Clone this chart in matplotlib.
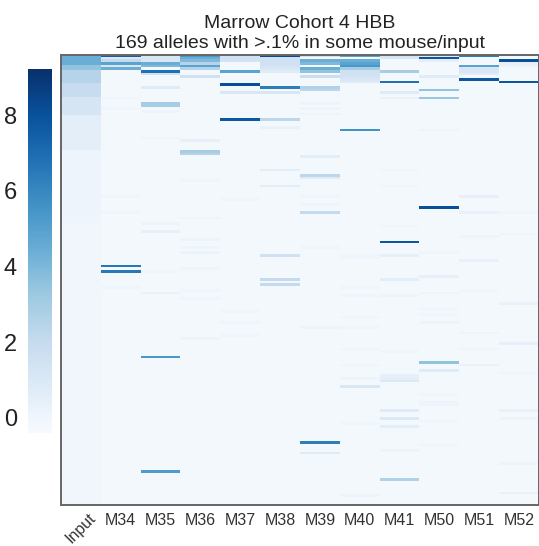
import numpy as np
import matplotlib
matplotlib.use("Agg")
import matplotlib.pyplot as plt
import matplotlib as mpl

plt.rcParams['font.family'] = ['Liberation Sans', 'DejaVu Sans']

# ---- data (intensities, 0 = background, 1 = darkest) ----
N_ALLELES = 169
columns = ['Input', 'M34', 'M35', 'M36', 'M37', 'M38', 'M39', 'M40', 'M41', 'M50', 'M51', 'M52']
background = 0.02

# Input column: (first row, last row, intensity)
input_bands = [(0, 3, 0.5), (4, 5, 0.4), (6, 10, 0.3), (11, 15, 0.24), (16, 22, 0.17),
               (23, 35, 0.1), (36, 60, 0.05), (61, 168, 0.035)]

# mouse columns: (row, intensity)
m34 = [(0, 0.82), (1, 0.15), (2, 0.25), (3, 0.55), (4, 0.15), (5, 0.5), (16, 0.045), (20, 0.04),
       (53, 0.04), (59, 0.04), (79, 0.72), (81, 0.72), (87, 0.04)]
m35 = [(0, 0.15), (1, 0.15), (2, 0.15), (3, 0.5), (4, 0.45), (6, 0.75), (7, 0.2), (12, 0.12),
       (18, 0.35), (19, 0.35), (21, 0.05), (31, 0.05), (63, 0.05), (66, 0.08), (81, 0.045),
       (89, 0.07), (113, 0.6), (156, 0.58)]
m36 = [(0, 0.6), (1, 0.5), (2, 0.45), (3, 0.3), (4, 0.55), (5, 0.3), (8, 0.2), (32, 0.08),
       (36, 0.35), (37, 0.3), (47, 0.045), (61, 0.05), (69, 0.05), (72, 0.05), (74, 0.06),
       (80, 0.05), (88, 0.045), (91, 0.045), (106, 0.05)]
m37 = [(0, 0.2), (1, 0.2), (2, 0.18), (6, 0.55), (11, 0.88), (14, 0.15), (24, 0.85),
       (54, 0.045), (96, 0.045), (100, 0.045), (105, 0.045)]
m38 = [(0, 0.9), (1, 0.2), (2, 0.2), (3, 0.2), (4, 0.18), (5, 0.15), (6, 0.12), (12, 0.7),
       (14, 0.15), (24, 0.28), (27, 0.07), (43, 0.1), (49, 0.1), (75, 0.2), (84, 0.25), (86, 0.25)]
m39 = [(0, 0.2), (2, 0.5), (3, 0.45), (5, 0.5), (6, 0.4), (8, 0.22), (12, 0.32), (13, 0.28),
       (18, 0.05), (20, 0.05), (22, 0.05), (38, 0.1), (45, 0.28), (46, 0.12), (53, 0.045),
       (56, 0.05), (59, 0.25), (72, 0.045), (102, 0.05), (145, 0.7), (149, 0.12)]
m40 = [(0, 0.55), (2, 0.5), (3, 0.55), (4, 0.6), (5, 0.35), (6, 0.2), (7, 0.2), (8, 0.18),
       (9, 0.15), (10, 0.12), (28, 0.62), (75, 0.045), (76, 0.045), (87, 0.04), (90, 0.04),
       (98, 0.045), (102, 0.04), (110, 0.04), (116, 0.045), (121, 0.05), (124, 0.15), (138, 0.045),
       (165, 0.05)]
m41 = [(0, 0.18), (1, 0.15), (6, 0.35), (10, 0.75), (14, 0.12), (16, 0.07), (43, 0.04),
       (49, 0.045), (64, 0.045), (70, 0.85), (75, 0.08), (84, 0.1), (90, 0.05), (111, 0.045),
       (120, 0.08), (121, 0.1), (122, 0.14), (133, 0.12), (136, 0.14), (139, 0.1), (148, 0.05),
       (159, 0.32)]
m50 = [(0, 0.12), (1, 0.85), (2, 0.1), (8, 0.12), (13, 0.4), (16, 0.38), (28, 0.05), (57, 0.88),
       (74, 0.04), (83, 0.08), (89, 0.05), (95, 0.045), (97, 0.045), (100, 0.05), (115, 0.4),
       (118, 0.12), (127, 0.04), (130, 0.05), (131, 0.05), (137, 0.04), (146, 0.045)]
m51 = [(0, 0.7), (4, 0.55), (5, 0.15), (6, 0.15), (7, 0.12), (9, 0.85), (53, 0.08), (59, 0.07),
       (68, 0.05), (77, 0.07), (88, 0.045), (104, 0.05), (110, 0.04), (116, 0.07)]
m52 = [(2, 0.88), (3, 0.08), (4, 0.06), (10, 0.85), (59, 0.04), (67, 0.05), (93, 0.07),
       (108, 0.08), (119, 0.045), (133, 0.07), (136, 0.05), (153, 0.05), (164, 0.07)]
mouse_cols = [m34, m35, m36, m37, m38, m39, m40, m41, m50, m51, m52]

# colorbar range
cbar_min, cbar_max = -0.4, 9.23
cbar_ticks = [0, 2, 4, 6, 8]

# ---- build matrix ----
mat = np.full((N_ALLELES, len(columns)), background)
for r0, r1, v in input_bands:
    mat[r0:r1 + 1, 0] = v
for j, col in enumerate(mouse_cols, start=1):
    for r, v in col:
        mat[r, j] = v

# ---- plot ----
fig = plt.figure(figsize=(5.39, 5.46), dpi=100)
ax = fig.add_axes([0.1132, 0.0751, 0.8868, 0.8242])
ax.imshow(mat, cmap='Blues', vmin=0, vmax=1, aspect='auto', interpolation='nearest')
ax.set_xticks(range(len(columns)))
ax.set_xticklabels(columns, fontsize=11.5, color='#333333')
ax.tick_params(axis='x', length=0, pad=6)
for lbl in ax.get_xticklabels():
    if lbl.get_text() == 'Input':
        lbl.set_rotation(45)
        lbl.set_ha('center')
        lbl.set_va('top')
        lbl.set_transform(lbl.get_transform() +
                          mpl.transforms.ScaledTranslation(0, 0.03, fig.dpi_scale_trans))
ax.set_yticks([])
for sp in ax.spines.values():
    sp.set_color('#666666')
    sp.set_linewidth(1.4)
ax.set_title('Marrow Cohort 4 HBB\n169 alleles with >.1% in some mouse/input',
             fontsize=14, color='#222222', pad=5, linespacing=1.25)

cax = fig.add_axes([0.052, 0.207, 0.0445, 0.667])
sm = mpl.cm.ScalarMappable(norm=mpl.colors.Normalize(cbar_min, cbar_max), cmap='Blues')
cb = fig.colorbar(sm, cax=cax, ticks=cbar_ticks)
cb.outline.set_visible(False)
cax.yaxis.set_ticks_position('left')
cax.tick_params(length=0, labelsize=17, pad=8, colors='#222222')

fig.savefig('out.png', dpi=100)
